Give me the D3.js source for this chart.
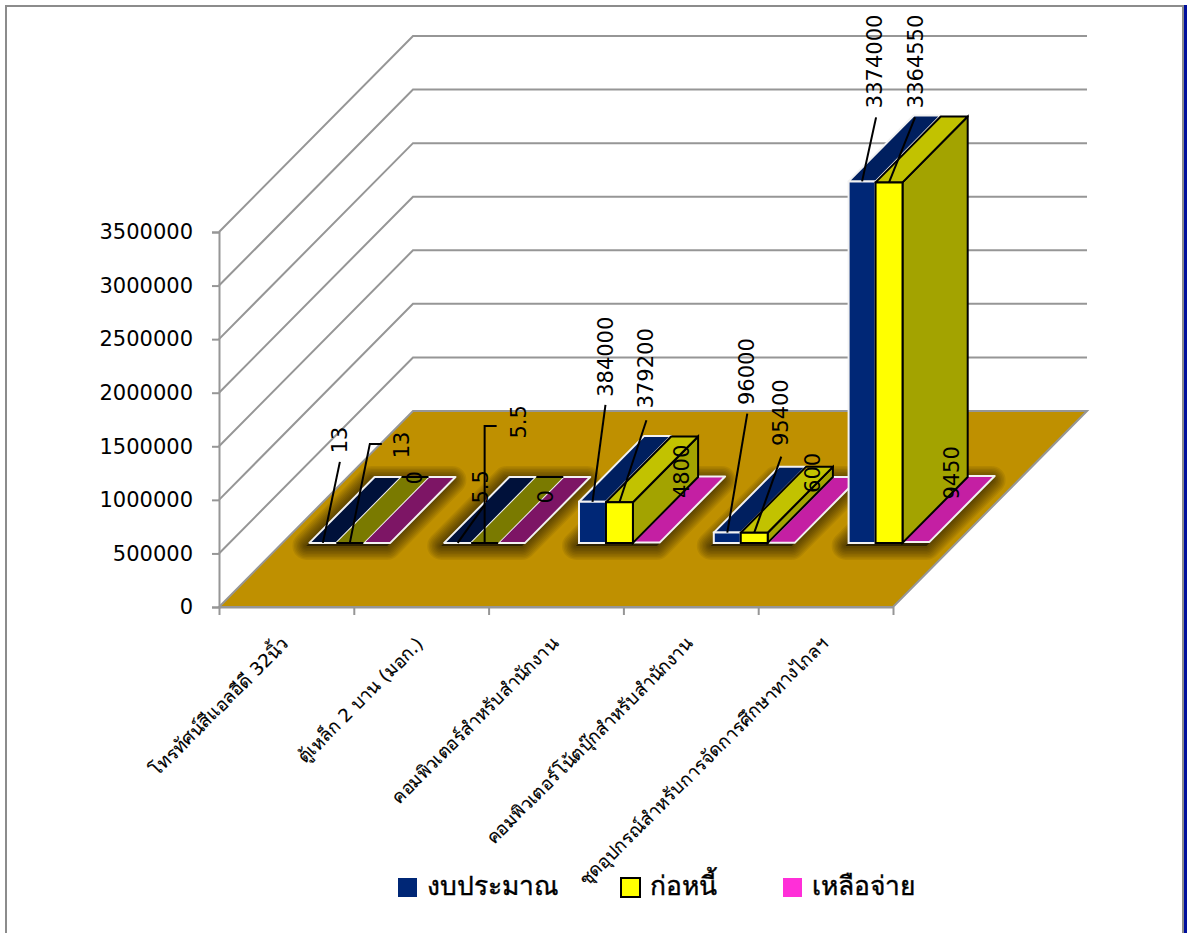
<!DOCTYPE html>
<html>
<head>
<meta charset="utf-8">
<script src="https://cdn.jsdelivr.net/npm/d3@7"></script>
<style>
  html, body { margin: 0; padding: 0; background: #fff; }
  text { font-family: 'DejaVu Sans', sans-serif; fill: #000; }
</style>
</head>
<body>
<svg id="chart" width="1193" height="933"></svg>
<script>
let categories = [
  'โทรทัศน์สีแอลอีดี 32นิ้ว',
  'ตู้เหล็ก 2 บาน (มอก.)',
  'คอมพิวเตอร์สำหรับสำนักงาน',
  'คอมพิวเตอร์โน้ตบุ๊กสำหรับสำนักงาน',
  'ชุดอุปกรณ์สำหรับการจัดการศึกษาทางไกลฯ'
]
let seriesNames = ['งบประมาณ', 'ก่อหนี้', 'เหลือจ่าย']
let budget = [13, 5.5, 384000, 96000, 3374000]
let committed = [13, 5.5, 379200, 95400, 3364550]
let remaining = [0, 0, 4800, 600, 9450]
let yTicks = [0, 500000, 1000000, 1500000, 2000000, 2500000, 3000000, 3500000]

// hand placed label nudges, relative to the top front middle of each bar
let labelNudge = [
  [[17.5, -103], [52.5, -98], [38.5, -65]],
  [[23, -56], [34, -121], [34, -46]],
  [[14, -145], [27, -134], [36, -71]],
  [[20, -161], [27, -120], [32, -70]],
  [[13, -120], [27, -121], [36, -69]]
]
let leaderNudge = [
  [[17, -81], [20, -99, 12]],
  [[27, -38], [0, -117, 12]],
  [[13, -97], [27, -82]],
  [[20, -119], [27, -76]],
  [[14, -64], [26, -65]]
]

let seriesValues = [budget, committed, remaining]
let frontColors = ['#002776', '#ffff00', '#c41fa3']
let topColors = ['#001f5f', '#c2c200', '#c41fa3']
let flatColors = ['#00113a', '#7a7a00', '#7d1565']
let legendColors = ['#002776', '#ffff00', '#ff2fd8']

let svg = d3.select('#chart')

let floorY = 607
let x = d3.scaleBand().domain(d3.range(categories.length)).range([219, 893])
let xInner = d3
  .scaleBand()
  .domain(d3.range(seriesNames.length))
  .range([0, x.bandwidth()])
  .paddingOuter(1)
let y = d3.scaleLinear().domain([0, 3500000]).range([floorY, 232])
let depthX = d3.scaleLinear().domain([0, 1]).range([0, 194])
let depthY = d3.scaleLinear().domain([0, 1]).range([0, 196])

let barFront = 0.327
let barBack = 0.663
let tiny = 100

let project = (px, value, z) => [px + depthX(z), y(value) - depthY(z)]
let poly = pts => 'M' + pts.map(p => p.join(',')).join('L') + 'Z'

// frame
svg.append('path')
  .attr('d', 'M6,933V6H1183V933')
  .attr('fill', 'none')
  .attr('stroke', '#8c8c8c')
  .attr('stroke-width', 2)
svg.append('rect')
  .attr('x', 1184).attr('y', 5).attr('width', 3).attr('height', 928)
  .attr('fill', '#000f9c')

let floorPts = [
  project(219, 0, 0),
  project(893, 0, 0),
  project(893, 0, 1),
  project(219, 0, 1)
]

// walls
let gridColor = '#969696'
svg.append('g')
  .selectAll('path')
  .data(yTicks.slice(1))
  .enter()
  .append('path')
  .attr('d', d => {
    let a = project(219, d, 0)
    let b = project(219, d, 1)
    let c = project(893, d, 1)
    return `M${a}L${b}L${c}`
  })
  .attr('fill', 'none')
  .attr('stroke', gridColor)
  .attr('stroke-width', 2)

svg.append('path')
  .attr('d', poly(floorPts))
  .attr('fill', '#bf9000')
  .attr('stroke', gridColor)
  .attr('stroke-width', 2)

// axes
let yAxis = d3
  .axisLeft(y)
  .tickValues(yTicks)
  .tickFormat(d3.format('d'))
  .tickSize(7)
  .tickPadding(19)
let yAxisG = svg.append('g').attr('transform', 'translate(219,0)').call(yAxis)
yAxisG.selectAll('text').attr('font-size', 21).attr('font-family', null)
yAxisG.selectAll('line').attr('stroke', gridColor).attr('stroke-width', 2)
yAxisG.select('.domain').attr('stroke', gridColor).attr('stroke-width', 2)

let xEdges = d3.scaleLinear().domain([0, categories.length]).range([219, 893])
let xAxis = d3
  .axisBottom(xEdges)
  .ticks(categories.length)
  .tickFormat('')
  .tickSize(8)
  .tickSizeOuter(0)
let xAxisG = svg.append('g').attr('transform', `translate(0,${floorY})`).call(xAxis)
xAxisG.selectAll('line').attr('stroke', gridColor).attr('stroke-width', 2)
xAxisG.select('.domain').attr('stroke', gridColor).attr('stroke-width', 2)

svg.append('g')
  .selectAll('text')
  .data(categories)
  .enter()
  .append('text')
  .attr('text-anchor', 'end')
  .attr('font-size', 18.2)
  .attr('stroke', '#000')
  .attr('stroke-width', 0.15)
  .attr('transform', (d, i) => {
    let px = x(i) + x.bandwidth() / 2 + 3
    return `translate(${px},645) rotate(-45)`
  })
  .text(d => d)

// soft shadow under each group of bars, built from stacked strokes
let shadowWidths = [28, 25, 22, 19, 16, 13, 10, 7, 4]
let shadows = svg.append('g').attr('transform', 'translate(-3,3)')
categories.forEach((c, i) => {
  let left = x(i) + xInner(0)
  let right = x(i) + xInner(2) + xInner.bandwidth()
  shadows.append('g')
    .selectAll('path')
    .data(shadowWidths)
    .enter()
    .append('path')
    .attr('d', poly([
      project(left, 0, barFront),
      project(right, 0, barFront),
      project(right, 0, barBack),
      project(left, 0, barBack)
    ]))
    .attr('fill', '#000')
    .attr('fill-opacity', 0.07)
    .attr('stroke', '#000')
    .attr('stroke-opacity', 0.07)
    .attr('stroke-width', d => d)
    .attr('stroke-linejoin', 'round')
})

// bars, drawn pink first so the box sides sit on top
let bars = svg.append('g')
let drawBar = (cat, s) => {
  let value = seriesValues[s][cat]
  let left = x(cat) + xInner(s)
  let right = left + xInner.bandwidth()
  let isTiny = value < tiny
  let outline = s === 1 ? '#000' : '#f2f2f2'
  let lw = 2

  let topFace = [
    project(left, value, barFront),
    project(right, value, barFront),
    project(right, value, barBack),
    project(left, value, barBack)
  ]
  let front = [
    project(left, 0, barFront),
    project(right, 0, barFront),
    project(right, value, barFront),
    project(left, value, barFront)
  ]
  let side = [
    project(right, 0, barFront),
    project(right, 0, barBack),
    project(right, value, barBack),
    project(right, value, barFront)
  ]

  if (s === 1 && isTiny) {
    bars.append('path').attr('d', poly(topFace)).attr('fill', flatColors[s])
    bars.append('path')
      .attr('d', `M${topFace[0]}L${topFace[1]}M${topFace[2]}L${topFace[3]}`)
      .attr('stroke', '#000')
      .attr('stroke-width', 2)
    return
  }

  if (s === 1) {
    bars.append('path')
      .attr('d', poly(side))
      .attr('fill', '#a3a300')
      .attr('stroke', outline)
      .attr('stroke-width', lw)
  }
  bars.append('path')
    .attr('d', poly(topFace))
    .attr('fill', isTiny ? flatColors[s] : topColors[s])
    .attr('stroke', outline)
    .attr('stroke-width', lw)
    .attr('stroke-linejoin', 'round')
  if (s !== 2 && !isTiny) {
    bars.append('path')
      .attr('d', poly(front))
      .attr('fill', frontColors[s])
      .attr('stroke', outline)
      .attr('stroke-width', lw)
  }
}

categories.forEach((c, i) => {
  drawBar(i, 2)
  drawBar(i, 0)
  drawBar(i, 1)
})

// leader lines and value labels
let labels = svg.append('g')
categories.forEach((c, i) => {
  seriesValues.forEach((values, s) => {
    let px = x(i) + xInner(s) + xInner.bandwidth() / 2
    let anchor = project(px, values[i], barFront)

    if (s < 2) {
      let lead = leaderNudge[i][s]
      let end = [anchor[0] + lead[0], anchor[1] + lead[1]]
      let d = `M${anchor}L${end}`
      if (lead[2]) d += `h${lead[2]}`
      labels.append('path')
        .attr('d', d)
        .attr('fill', 'none')
        .attr('stroke', '#000')
        .attr('stroke-width', 2)
    }

    let nudge = labelNudge[i][s]
    labels.append('text')
      .attr('transform', `translate(${anchor[0] + nudge[0]},${anchor[1] + nudge[1]}) rotate(-90)`)
      .attr('text-anchor', 'middle')
      .attr('dominant-baseline', 'central')
      .attr('font-size', 21)
      .text(values[i])
  })
})

// legend
let legendX = d3.scaleOrdinal().domain(seriesNames).range([398, 621, 783])
let legend = svg.append('g')
  .selectAll('g')
  .data(seriesNames)
  .enter()
  .append('g')
  .attr('transform', d => `translate(${legendX(d)},878)`)
legend.append('rect')
  .attr('width', 19)
  .attr('height', 19)
  .attr('fill', (d, i) => legendColors[i])
  .attr('stroke', (d, i) => (i === 1 ? '#000' : 'none'))
  .attr('stroke-width', 2)
legend.append('text')
  .attr('x', 29)
  .attr('y', 17)
  .attr('font-size', 26.4)
  .attr('stroke', '#000')
  .attr('stroke-width', 0.4)
  .text(d => d)
</script>
</body>
</html>
